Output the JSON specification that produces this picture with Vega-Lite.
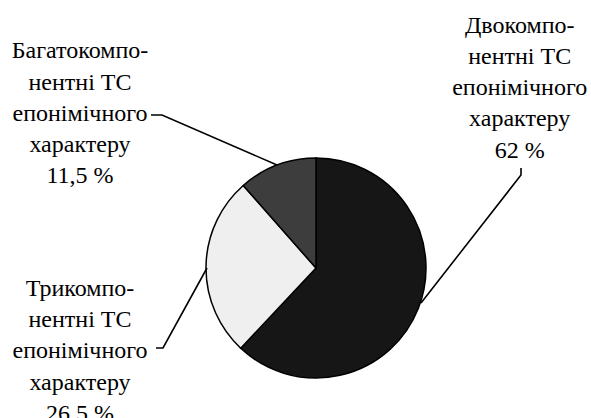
{
  "$schema": "https://vega.github.io/schema/vega-lite/v6.json",
  "autosize": "none",
  "width": 550,
  "height": 300,
  "padding": {"left": 41, "top": 118, "right": 0, "bottom": 0},
  "background": "white",
  "config": {"view": {"stroke": null}},
  "datasets": {
    "pie": [
      {"category": "Двокомпонентні ТС епонімічного характеру", "value": 62},
      {"category": "Трикомпонентні ТС епонімічного характеру", "value": 26.5},
      {"category": "Багатокомпонентні ТС епонімічного характеру", "value": 11.5}
    ],
    "labels": [
      {"text": "Двокомпо-", "x": 519.7, "y": 32.8},
      {"text": "нентні ТС", "x": 519.7, "y": 64},
      {"text": "епонімічного", "x": 519.7, "y": 95.2},
      {"text": "характеру", "x": 519.7, "y": 126.4},
      {"text": "62 %", "x": 519.7, "y": 157.6},
      {"text": "Трикомпо-", "x": 80, "y": 296},
      {"text": "нентні ТС", "x": 80, "y": 327.2},
      {"text": "епонімічного", "x": 80, "y": 358.4},
      {"text": "характеру", "x": 80, "y": 389.6},
      {"text": "26,5 %", "x": 80, "y": 420.8},
      {"text": "Багатокомпо-", "x": 80, "y": 58.3},
      {"text": "нентні ТС", "x": 80, "y": 89.5},
      {"text": "епонімічного", "x": 80, "y": 120.7},
      {"text": "характеру", "x": 80, "y": 151.9},
      {"text": "11,5 %", "x": 80, "y": 183.1}
    ],
    "leaders": [
      {"g": "a", "i": 1, "x": 521, "y": 168},
      {"g": "a", "i": 2, "x": 521, "y": 175},
      {"g": "a", "i": 3, "x": 421, "y": 303},
      {"g": "b", "i": 1, "x": 156, "y": 348},
      {"g": "b", "i": 2, "x": 163, "y": 348},
      {"g": "b", "i": 3, "x": 207, "y": 268},
      {"g": "c", "i": 1, "x": 151, "y": 115},
      {"g": "c", "i": 2, "x": 162, "y": 115},
      {"g": "c", "i": 3, "x": 277, "y": 165}
    ]
  },
  "layer": [
    {
      "data": {"name": "pie"},
      "mark": {"type": "arc", "outerRadius": 110, "stroke": "black", "strokeWidth": 1.5},
      "encoding": {
        "theta": {"field": "value", "type": "quantitative", "stack": true},
        "order": {"field": "value", "sort": "descending"},
        "color": {
          "field": "category",
          "type": "nominal",
          "legend": null,
          "scale": {
            "domain": [
              "Двокомпонентні ТС епонімічного характеру",
              "Трикомпонентні ТС епонімічного характеру",
              "Багатокомпонентні ТС епонімічного характеру"
            ],
            "range": ["#161616", "#efefef", "#3d3d3d"]
          }
        }
      }
    },
    {
      "data": {"name": "leaders"},
      "mark": {"type": "line", "color": "black", "strokeWidth": 1.6},
      "encoding": {
        "x": {"field": "x", "type": "quantitative", "scale": {"domain": [41, 591], "nice": false, "zero": false}, "axis": null},
        "y": {"field": "y", "type": "quantitative", "scale": {"domain": [118, 418], "nice": false, "zero": false, "reverse": true}, "axis": null},
        "detail": {"field": "g"},
        "order": {"field": "i"}
      }
    },
    {
      "data": {"name": "labels"},
      "mark": {"type": "text", "font": "Liberation Serif", "fontSize": 24, "align": "center", "baseline": "alphabetic", "color": "black"},
      "encoding": {
        "x": {"field": "x", "type": "quantitative", "axis": null},
        "y": {"field": "y", "type": "quantitative", "axis": null},
        "text": {"field": "text"}
      }
    }
  ]
}
